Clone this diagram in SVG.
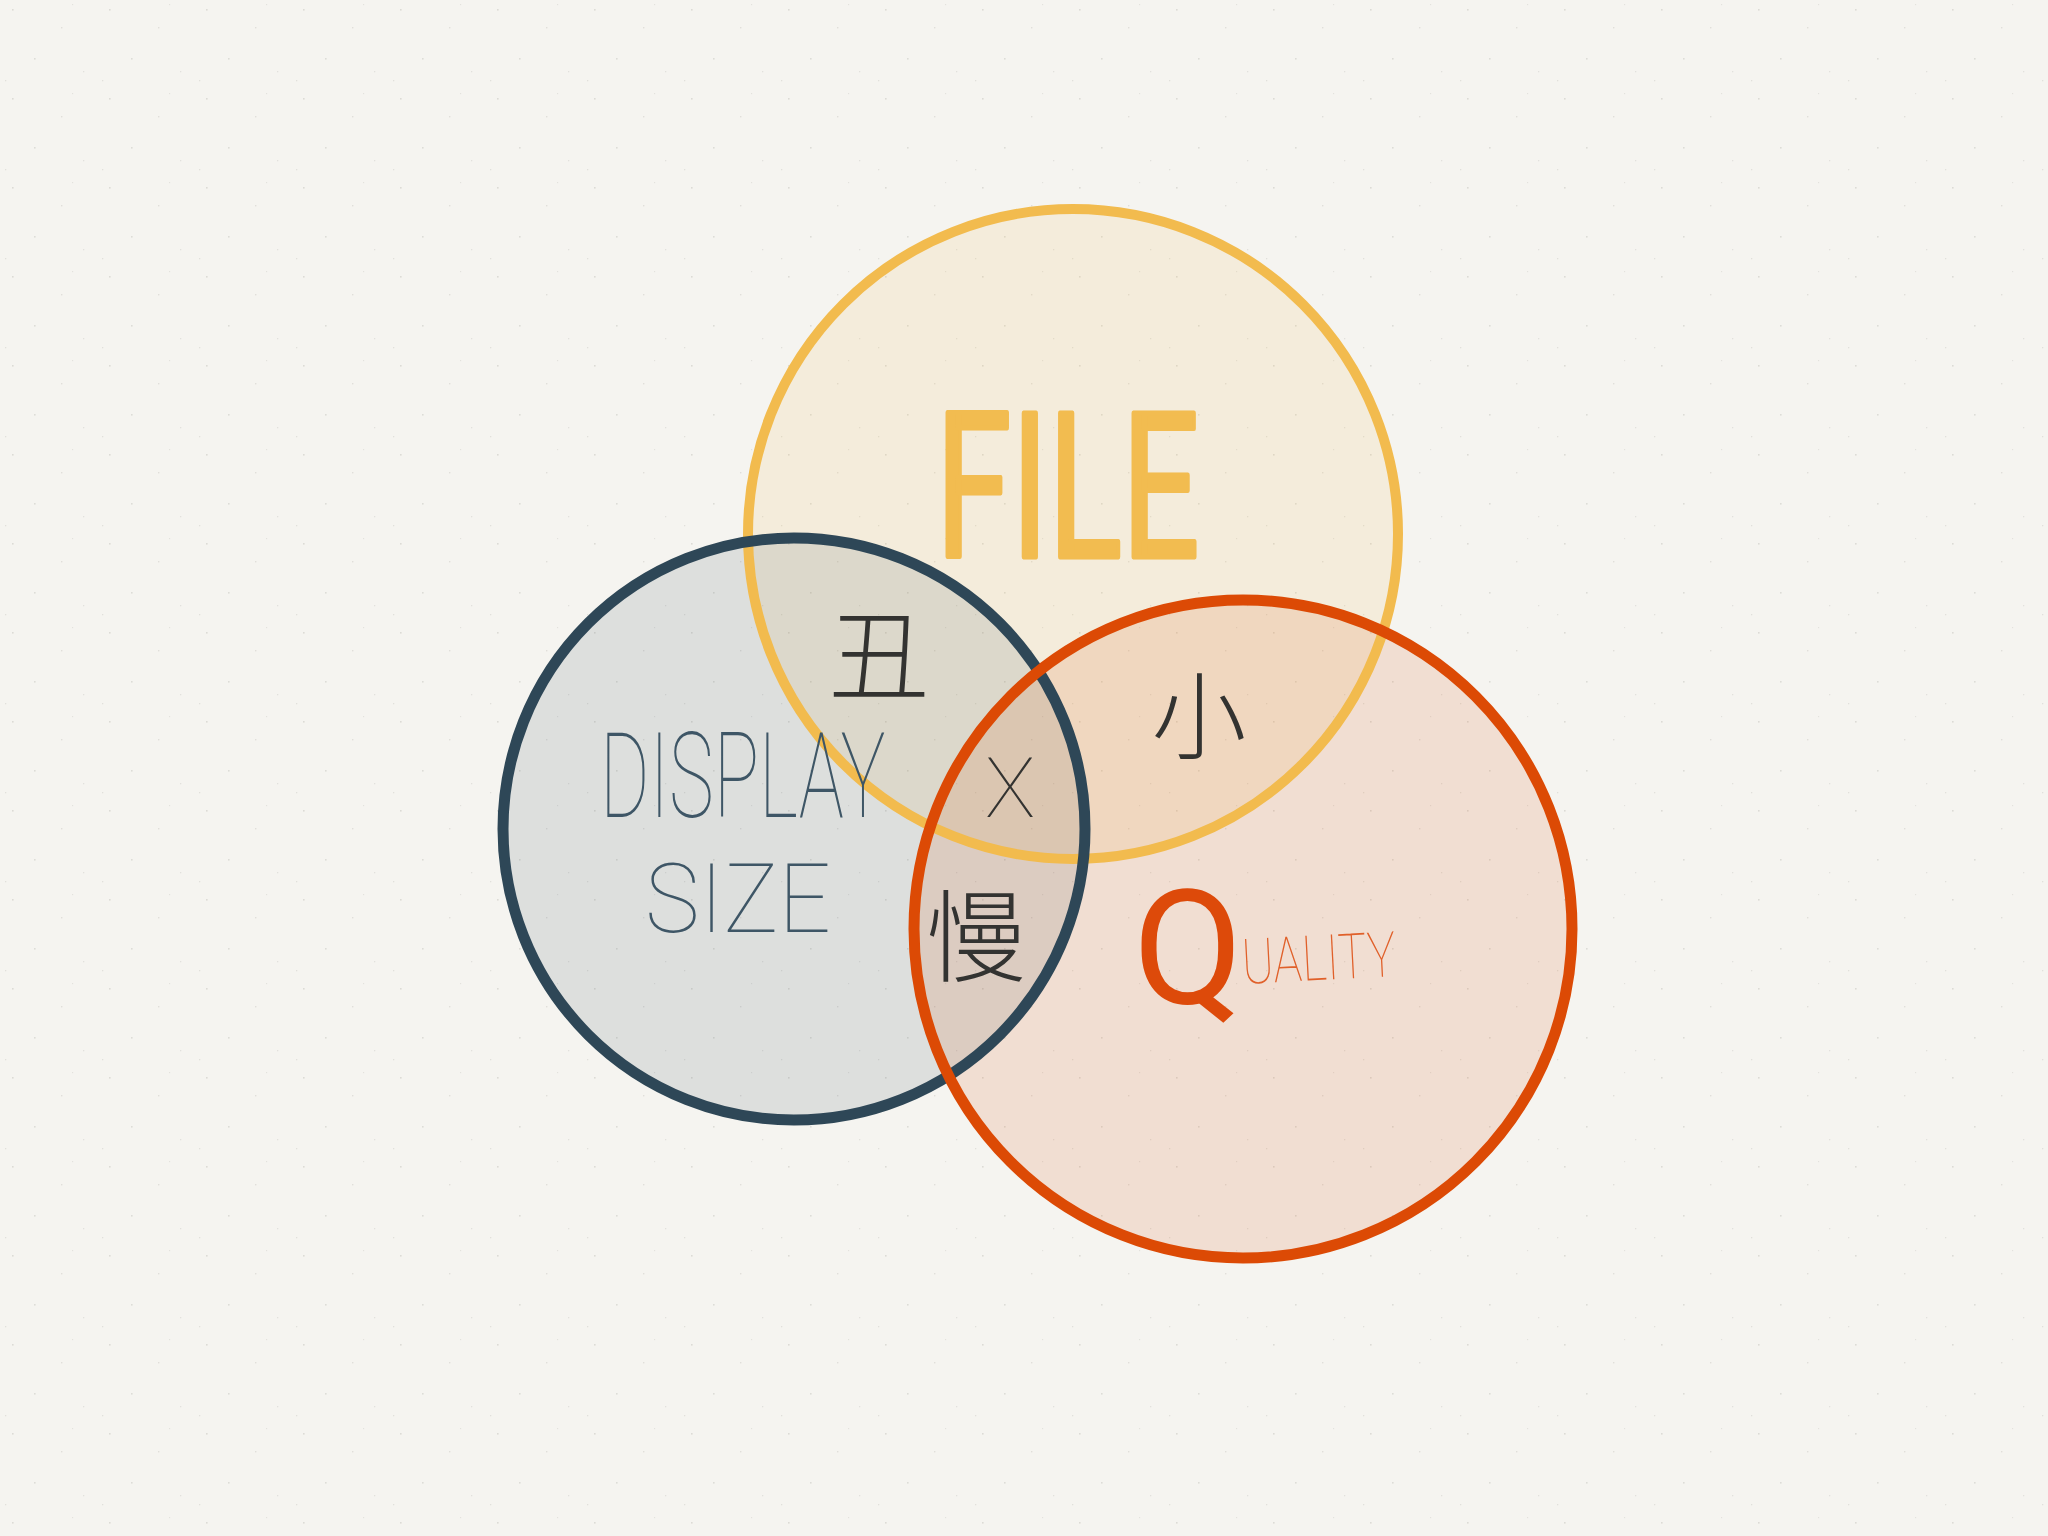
<svg xmlns="http://www.w3.org/2000/svg" width="2048" height="1536" viewBox="0 0 2048 1536">
  <defs>
    <!-- faint paper grain -->
    <pattern id="grain" width="97" height="89" patternUnits="userSpaceOnUse">
      <rect x="12" y="9" width="1.6" height="1.6" fill="#dcdbd6"/>
      <rect x="61" y="27" width="1.4" height="1.4" fill="#e0dfda"/>
      <rect x="34" y="58" width="1.6" height="1.6" fill="#dddcd7"/>
      <rect x="83" y="71" width="1.3" height="1.3" fill="#e2e1dc"/>
      <rect x="5" y="80" width="1.3" height="1.3" fill="#e1e0db"/>
      <rect x="72" y="4" width="1.2" height="1.2" fill="#e3e2dd"/>
    </pattern>
    <style>
      .fill-file { fill: #f2bb4e; fill-opacity: 0.13; }
      .fill-display { fill: #2e4757; fill-opacity: 0.12; }
      .fill-quality { fill: #dc4a05; fill-opacity: 0.13; }
      .ring { fill: none; stroke-linecap: round; }
      .ring-file { stroke: #f2bb4e; stroke-width: 10; }
      .ring-display { stroke: #2e4757; stroke-width: 11; }
      .ring-quality { stroke: #dc4a05; stroke-width: 11; }
      .hand { font-family: Roboto, "Open Sans", "DejaVu Sans", sans-serif; font-weight: 100; }
      .cjk { font-family: "Noto Sans CJK SC", "Noto Sans CJK JP", sans-serif; font-weight: 200; fill: #333331; }
    </style>
  </defs>

  <rect width="2048" height="1536" fill="#f5f4f0"/>
  <rect width="2048" height="1536" fill="url(#grain)"/>

  <!-- circle fills, drawn first so every outline sits above them -->
  <g id="fills">
    <circle class="fill-file" cx="1073" cy="534" r="325"/>
    <circle class="fill-display" cx="794" cy="829" r="291"/>
    <circle class="fill-quality" cx="1243" cy="929" r="329"/>
  </g>

  <g id="node-file">
    <circle class="ring ring-file" cx="1073" cy="534" r="325"/>
    <text transform="translate(936 557) scale(0.675 1)" font-family="Roboto, 'Liberation Sans', sans-serif" font-weight="400" font-size="202" fill="#f2bc50" stroke="#f2bc50" stroke-width="5" stroke-linejoin="round" stroke-linecap="round">FILE</text>
  </g>

  <g id="node-display-size">
    <circle class="ring ring-display" cx="794" cy="829" r="291"/>
    <text class="hand" transform="translate(600 817) scale(0.64 1)" font-size="118" fill="#3e5666">DISPLAY</text>
    <text class="hand" transform="translate(645 932) scale(0.95 1)" font-size="97" fill="#3e5666">SIZE</text>
  </g>

  <g id="node-quality">
    <circle class="ring ring-quality" cx="1243" cy="929" r="329"/>
    <text x="1133" y="1003" font-family="Roboto, 'Open Sans', sans-serif" font-weight="400" font-size="160" fill="#dd4a0a">Q</text>
    <text class="hand" transform="translate(1243 984) rotate(-3) scale(0.76 1)" font-size="63" font-weight="300" fill="#e0602a">UALITY</text>
  </g>

  <!-- labels for the overlapping regions -->
  <g id="overlaps">
    <text class="cjk" x="879" y="692" font-size="100" text-anchor="middle">丑</text>
    <text class="cjk" x="1199" y="752" font-size="95" text-anchor="middle">小</text>
    <text class="cjk" x="976" y="974" font-size="100" text-anchor="middle" fill="#4a4947">慢</text>
    <text class="hand" x="1010" y="817" font-size="84" text-anchor="middle" fill="#333331">X</text>
  </g>

  <g id="connectors"/>
</svg>
